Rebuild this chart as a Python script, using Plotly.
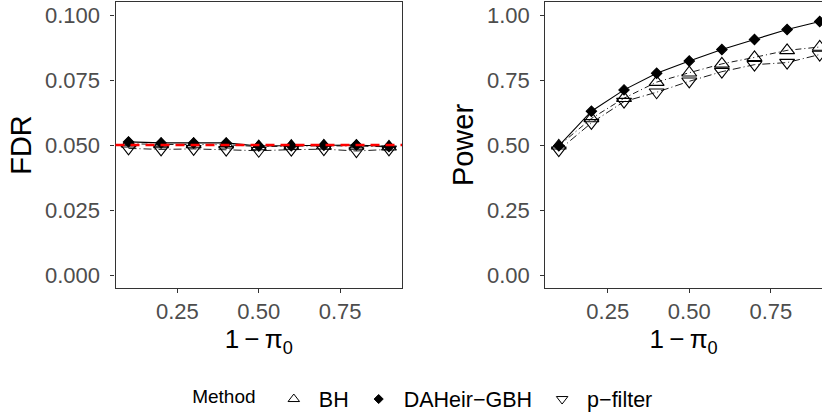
import plotly.graph_objects as go

# ---- data ----
pi_x = [0.1, 0.2, 0.3, 0.4, 0.5, 0.6, 0.7, 0.8, 0.9]
methods = ["BH", "DAHeir\u2212GBH", "p\u2212filter"]
fdr_bh = [0.0505, 0.0502, 0.0502, 0.0501, 0.0494, 0.0496, 0.0497, 0.0496, 0.0493]
fdr_dah = [0.0512, 0.0508, 0.0508, 0.0508, 0.0496, 0.0497, 0.0499, 0.0500, 0.0494]
fdr_pf = [0.0487, 0.0483, 0.0485, 0.0482, 0.0478, 0.0482, 0.0484, 0.0477, 0.0483]
pow_bh = [0.497, 0.602, 0.680, 0.742, 0.778, 0.812, 0.837, 0.864, 0.877]
pow_dah = [0.497, 0.630, 0.712, 0.776, 0.823, 0.867, 0.906, 0.944, 0.975]
pow_pf = [0.480, 0.585, 0.667, 0.703, 0.745, 0.782, 0.809, 0.817, 0.848]
fdr_level = 0.05
x_ticks = [0.25, 0.50, 0.75]
fdr_ticks = [0.000, 0.025, 0.050, 0.075, 0.100]
pow_ticks = [0.00, 0.25, 0.50, 0.75, 1.00]

styles = {
    "BH": dict(symbol="triangle-up-open", size=13, dash="6px,3px,1px,3px", lw=0.9),
    "DAHeir\u2212GBH": dict(symbol="diamond", size=8, dash="solid", lw=1.1),
    "p\u2212filter": dict(symbol="triangle-down-open", size=13, dash="8px,3px,1px,3px", lw=0.9),
}

fig = go.Figure()
panels = [("x", "y", [fdr_bh, fdr_dah, fdr_pf]), ("x2", "y2", [pow_bh, pow_dah, pow_pf])]
for xa, ya, series in panels:
    for m, vals in zip(methods, series):
        s = styles[m]
        fig.add_trace(go.Scatter(
            x=pi_x, y=vals, xaxis=xa, yaxis=ya, mode="lines+markers", name=m,
            showlegend=False,
            line=dict(color="black", width=s["lw"], dash=s["dash"]),
            marker=dict(symbol=s["symbol"], size=s["size"], color="black",
                        line=dict(color="black", width=1.1)),
        ))

# legend-only entries (points only, as in the reference)
leg_sizes = {"BH": 10, "DAHeir\u2212GBH": 7, "p\u2212filter": 10}
for m in methods:
    s = styles[m]
    fig.add_trace(go.Scatter(
        x=[None], y=[None], mode="markers", name=m, showlegend=True,
        marker=dict(symbol=s["symbol"], size=leg_sizes[m], color="black",
                    line=dict(color="black", width=1)),
    ))

fig.add_shape(type="line", xref="x domain", yref="y", x0=0, x1=1,
              y0=fdr_level, y1=fdr_level, layer="above",
              line=dict(color="#ff0000", width=2.3, dash="9px,6px"))

W, H = 822, 417
FONT = "Liberation Sans, Arial"
axis_common = dict(showline=True, linecolor="#333333", linewidth=1.1,
                   ticks="outside", ticklen=4, tickwidth=1.1, tickcolor="#333333",
                   showgrid=False, zeroline=False, automargin=False,
                   tickfont=dict(family=FONT, size=22, color="#4d4d4d"))
title_font = dict(family=FONT, size=29, color="black")
xtitle_font = dict(family=FONT, size=26, color="black")
xtitle = "1\u2009\u2212\u2009\u03c0<sub>0</sub>"

fig.update_layout(
    width=W, height=H,
    margin=dict(l=0, r=0, t=0, b=0, autoexpand=False),
    paper_bgcolor="white", plot_bgcolor="white",
    xaxis=dict(axis_common, domain=[115.5 / W, 402 / W], range=[0.06, 0.94],
               tickvals=x_ticks, tickformat=".2f", mirror=True, anchor="y",
               ticklabelstandoff=0,
               title=dict(text=xtitle, font=xtitle_font, standoff=1)),
    yaxis=dict(axis_common, domain=[1 - 288 / H, 1 - 2 / H], range=[-0.005, 0.105],
               tickvals=fdr_ticks, tickformat=".3f", mirror=True, anchor="x",
               ticklabelstandoff=6,
               title=dict(text="FDR", font=title_font, standoff=4)),
    xaxis2=dict(axis_common, domain=[545.3 / W, 1.0], range=[0.0586, 0.907],
                tickvals=x_ticks, tickformat=".2f", mirror=True, anchor="y2",
                ticklabelstandoff=0,
                title=dict(text=xtitle, font=xtitle_font, standoff=1)),
    yaxis2=dict(axis_common, domain=[1 - 288 / H, 1 - 2 / H], range=[-0.05, 1.05],
                tickvals=pow_ticks, tickformat=".2f", mirror=False, anchor="x2",
                ticklabelstandoff=6,
                title=dict(text="Power", font=title_font, standoff=4)),
    legend=dict(orientation="h", x=0.516, xanchor="center", y=0.043, yanchor="middle",
                itemwidth=40, valign="middle",
                font=dict(family=FONT, size=21.5, color="black"),
                title=dict(text="Method ", side="left",
                           font=dict(family=FONT, size=19, color="black"))),
    font=dict(family=FONT),
)

fig.write_html("out.html", config={"displayModeBar": False},
               post_script="document.body.style.margin='0';")
